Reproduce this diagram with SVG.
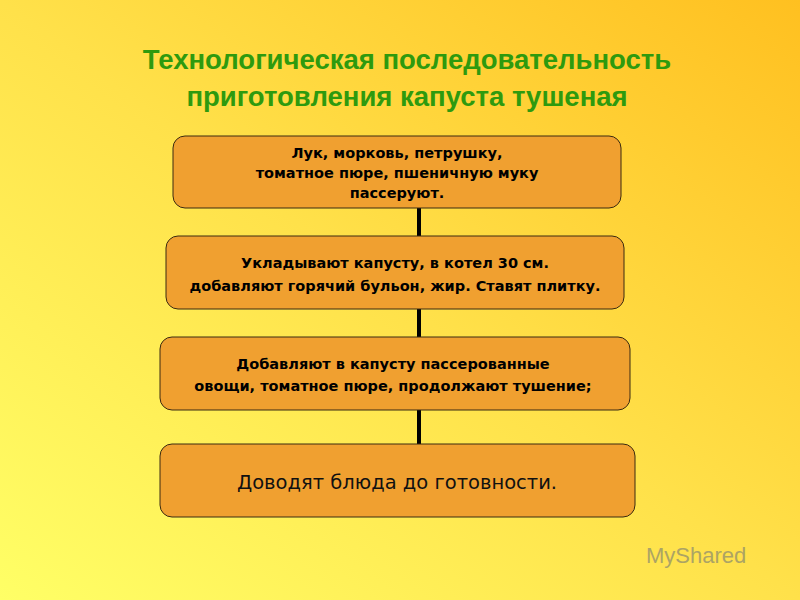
<svg xmlns="http://www.w3.org/2000/svg" width="800" height="600" viewBox="0 0 800 600">
<defs>
<linearGradient id="bg" x1="0" y1="1" x2="1" y2="0">
<stop offset="0" stop-color="#FFFF66"/>
<stop offset="0.5" stop-color="#FFE14A"/>
<stop offset="1" stop-color="#FFC020"/>
</linearGradient>
<style>
.box{fill:#F0A030;stroke:#3a2a10;stroke-width:1}
.t{font-family:"DejaVu Sans",sans-serif;font-size:14.5px;font-weight:bold;fill:#000;text-anchor:middle}
.title{font-family:"Liberation Sans",Arial,sans-serif;font-size:27.5px;font-weight:bold;fill:#2E9A0E;text-anchor:middle}
</style>
</defs>
<rect width="800" height="600" fill="url(#bg)"/>
<text class="title" x="407" y="69">Технологическая последовательность</text>
<text class="title" x="407" y="106">приготовления капуста тушеная</text>
<g id="connectors" stroke="#000" stroke-width="4">
<line x1="419" y1="208" x2="419" y2="236"/>
<line x1="419" y1="309" x2="419" y2="337"/>
<line x1="419" y1="410" x2="419" y2="444"/>
</g>
<g id="n1"><rect class="box" x="173" y="136" width="448" height="72" rx="12"/>
<text class="t" x="397" y="158">Лук, морковь, петрушку,</text>
<text class="t" x="397" y="178">томатное пюре, пшеничную муку</text>
<text class="t" x="397" y="198">пассеруют.</text></g>
<g id="n2"><rect class="box" x="166" y="236" width="458" height="73" rx="12"/>
<text class="t" x="395" y="268">Укладывают капусту, в котел 30 см.</text>
<text class="t" x="395" y="291">добавляют горячий бульон, жир. Ставят плитку.</text></g>
<g id="n3"><rect class="box" x="160" y="337" width="470" height="73" rx="12"/>
<text class="t" x="393" y="369">Добавляют в капусту пассерованные</text>
<text class="t" x="393" y="391">овощи, томатное пюре, продолжают тушение;</text></g>
<g id="n4"><rect class="box" x="160" y="444" width="475" height="73" rx="12"/>
<text x="397" y="489" style="font-family:'DejaVu Sans',sans-serif;font-size:19.5px;fill:#111;text-anchor:middle">Доводят блюда до готовности.</text></g>
<text x="646" y="563" style="font-family:'Liberation Sans',Arial,sans-serif;font-size:22px;fill:#8a8a70;opacity:0.7">MyShared</text>
</svg>
